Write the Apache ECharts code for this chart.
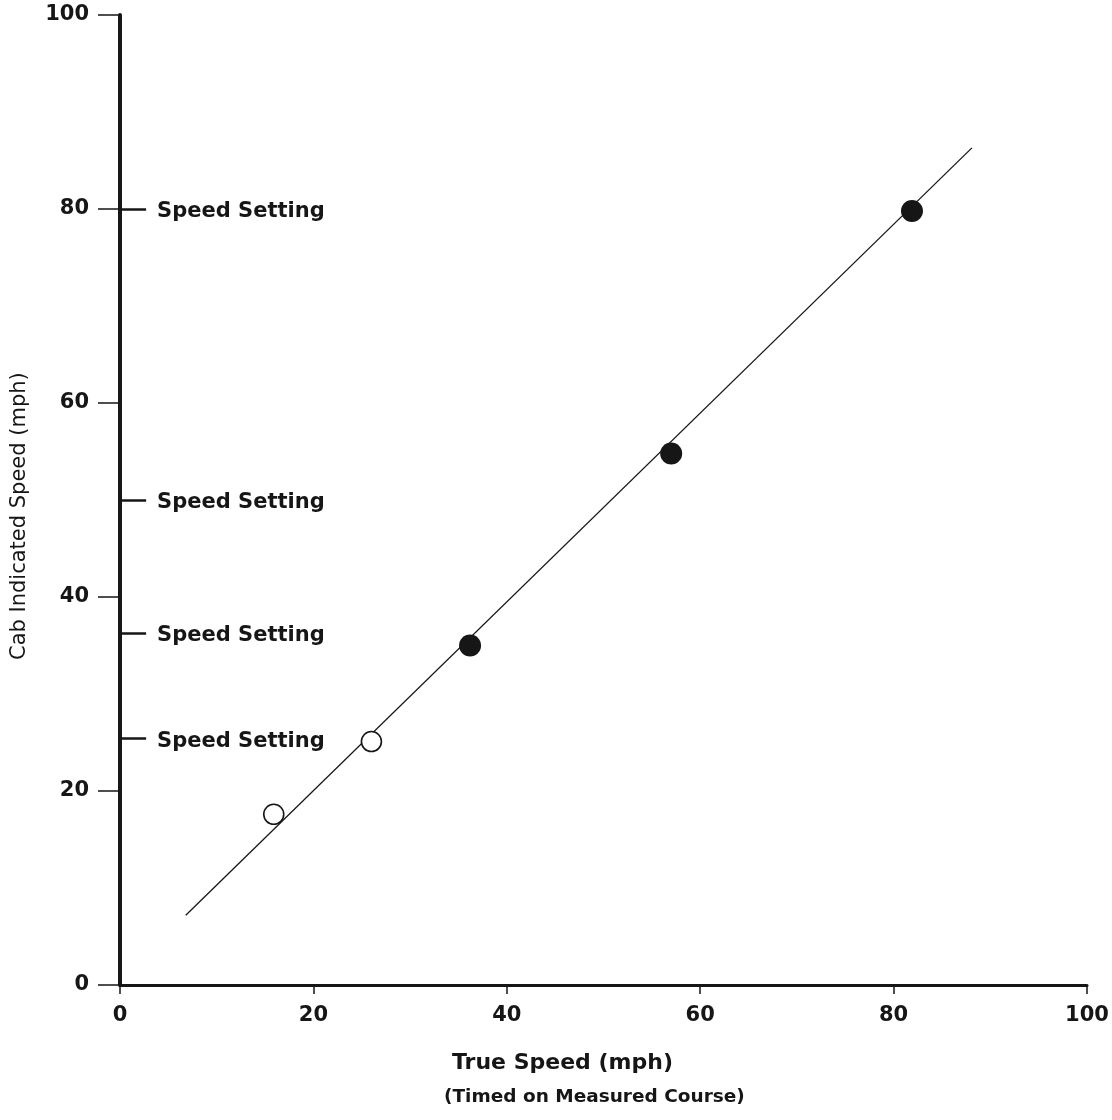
<!DOCTYPE html>
<html><head><meta charset="utf-8">
<script src="https://cdn.jsdelivr.net/npm/echarts@6/dist/echarts.min.js"></script>
<style>html,body{margin:0;padding:0;background:#fff}#c{width:1112px;height:1120px}</style>
</head><body><div id="c"></div>
<script>
const xTicks = [0, 20, 40, 60, 80, 100];
const yTicks = [0, 20, 40, 60, 80, 100];
const filledPoints = [[36.2, 35.0], [57.0, 54.8], [81.9, 79.8]];
const openPoints = [[15.9, 17.6], [26.0, 25.1]];
const fitLine = [[6.8, 7.2], [88.1, 86.3]];
const speedSettings = [80, 50, 36.3, 25.4];
const speedLabel = 'Speed Setting';
const settingTickEnd = 2.7;

const font = '"DejaVu Sans", "Liberation Sans", Arial, sans-serif';
const ink = '#161616';
const chart = echarts.init(document.getElementById('c'));
chart.setOption({
  animation: false,
  backgroundColor: '#fff',
  grid: {left: 120, right: 25, top: 15, bottom: 135, containLabel: false},
  xAxis: {
    type: 'value', min: xTicks[0], max: xTicks[xTicks.length-1], interval: 20,
    axisLine: {show: true, onZero: false, lineStyle: {color: ink, width: 3}},
    axisTick: {show: true, length: 9, lineStyle: {color: ink, width: 1.5}},
    splitLine: {show: false},
    axisLabel: {margin: 20, color: ink, fontSize: 21, fontWeight: 'bold', fontFamily: font}
  },
  yAxis: {
    type: 'value', min: yTicks[0], max: yTicks[yTicks.length-1], interval: 20,
    axisLine: {show: true, onZero: false, lineStyle: {color: ink, width: 4}},
    axisTick: {show: true, length: 22, lineStyle: {color: ink, width: 1.5}},
    splitLine: {show: false},
    axisLabel: {margin: 31, color: ink, fontSize: 21, fontWeight: 'bold', fontFamily: font}
  },
  graphic: [
    {type: 'text', left: 452, top: 1052, style: {text: 'True Speed (mph)', font: 'bold 22px ' + font, fill: ink}},
    {type: 'text', left: 444, top: 1088, style: {text: '(Timed on Measured Course)', font: 'bold 18.5px ' + font, fill: ink}},
    {type: 'text', x: 9, y: 660, rotation: Math.PI/2, style: {text: 'Cab Indicated Speed (mph)', font: '21px ' + font, fill: ink}}
  ],
  series: [
    {
      type: 'line', data: fitLine, symbol: 'none', silent: true,
      lineStyle: {color: ink, width: 1.3}, z: 2,
      markLine: {
        silent: true, symbol: 'none', animation: false,
        lineStyle: {color: ink, width: 2.5, type: 'solid'},
        label: {show: true, position: 'end', formatter: speedLabel, distance: 11,
                offset: [0, 3],
                color: ink, fontSize: 21, fontWeight: 'bold', fontFamily: font},
        data: speedSettings.map(v => [{coord: [0, v]}, {coord: [settingTickEnd, v]}])
      }
    },
    {
      type: 'scatter', data: filledPoints, symbol: 'circle', symbolSize: 22,
      itemStyle: {color: ink, opacity: 1}, z: 5
    },
    {
      type: 'scatter', data: openPoints, symbol: 'circle', symbolSize: 20,
      itemStyle: {color: '#fff', borderColor: ink, borderWidth: 1.6, opacity: 1}, z: 5
    }
  ]
});
</script></body></html>
